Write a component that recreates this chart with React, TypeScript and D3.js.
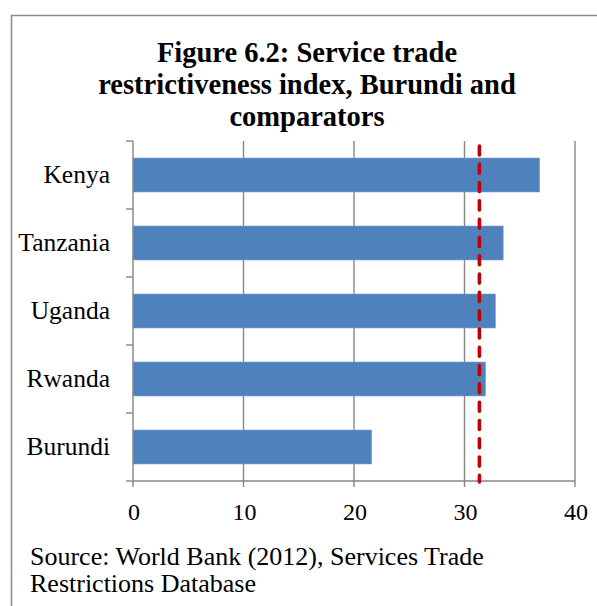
import React from "react";
import * as d3 from "d3";

const categories = ["Kenya", "Tanzania", "Uganda", "Rwanda", "Burundi"];
const values = [36.8, 33.5, 32.8, 31.9, 21.6];
const referenceValue = 31.35;
const xTicks = [0, 10, 20, 30, 40];
const titleLines = [
  "Figure 6.2: Service trade",
  "restrictiveness index, Burundi and",
  "comparators",
];
const sourceLines = [
  "Source: World Bank (2012), Services Trade",
  "Restrictions Database",
];

const W = 597;
const H = 606;
const plotLeft = 133;
const plotRight = 575;
const plotTop = 141;
const plotBottom = 481;
const FONT = "'Liberation Serif', 'Times New Roman', Times, serif";
const GRID = "#868686";

export default function App() {
  const x = d3.scaleLinear().domain([0, 40]).range([plotLeft, plotRight]);
  const y = d3
    .scaleBand<string>()
    .domain(categories)
    .range([plotTop, plotBottom])
    .paddingInner(0.5)
    .paddingOuter(0.25);
  const step = y.step();
  const boundaries = d3.range(categories.length + 1).map((i) => plotTop + i * step);
  const data = categories.map((c, i) => ({ c, v: values[i] }));
  const refX = x(referenceValue);

  return (
    <div style={{ position: "fixed", left: 0, top: 0 }}>
      <svg width={W} height={H} style={{ display: "block", background: "#fff" }}>
        <rect x={11.5} y={15.5} width={700} height={700} fill="#fff" stroke="#8a8a8a" strokeWidth={1.5} />
        {titleLines.map((t, i) => (
          <text
            key={t}
            x={307}
            y={62 + i * 32}
            textAnchor="middle"
            fontFamily={FONT}
            fontWeight="bold"
            fontSize={28.5}
            fill="#000"
          >
            {t}
          </text>
        ))}
        {xTicks.slice(1).map((t) => (
          <line key={"g" + t} x1={x(t)} x2={x(t)} y1={plotTop} y2={plotBottom} stroke={GRID} strokeWidth={1.4} />
        ))}
        {data.map((d) => (
          <rect
            key={d.c}
            x={x(0)}
            y={y(d.c)}
            width={x(d.v) - x(0)}
            height={y.bandwidth()}
            fill="#4f81bd"
            stroke="#7da2cf"
            strokeWidth={0.6}
          />
        ))}
        <line x1={plotLeft} x2={plotLeft} y1={plotTop} y2={plotBottom} stroke={GRID} strokeWidth={1.4} />
        {boundaries.map((b, i) => (
          <line key={"yt" + i} x1={plotLeft - 7} x2={plotLeft} y1={b} y2={b} stroke={GRID} strokeWidth={1.4} />
        ))}
        {categories.map((c) => (
          <text
            key={"l" + c}
            x={110}
            y={(y(c) as number) + y.bandwidth() / 2 + 8}
            textAnchor="end"
            fontFamily={FONT}
            fontSize={25.5}
            fill="#000"
          >
            {c}
          </text>
        ))}
        <line x1={plotLeft} x2={plotRight} y1={plotBottom} y2={plotBottom} stroke={GRID} strokeWidth={1.4} />
        {xTicks.map((t) => (
          <g key={"xt" + t}>
            <line x1={x(t)} x2={x(t)} y1={plotBottom} y2={plotBottom + 6} stroke={GRID} strokeWidth={1.4} />
            <text x={x(t) + 1} y={520} textAnchor="middle" fontFamily={FONT} fontSize={24} fill="#000">
              {t}
            </text>
          </g>
        ))}
        <line
          x1={refX}
          x2={refX}
          y1={146}
          y2={482}
          stroke="#c00000"
          strokeWidth={3.6}
          strokeDasharray="9 9.3"
          strokeLinecap="round"
        />
        {sourceLines.map((s, i) => (
          <text key={s} x={30} y={565 + i * 27} fontFamily={FONT} fontSize={26} fill="#000">
            {s}
          </text>
        ))}
      </svg>
    </div>
  );
}
